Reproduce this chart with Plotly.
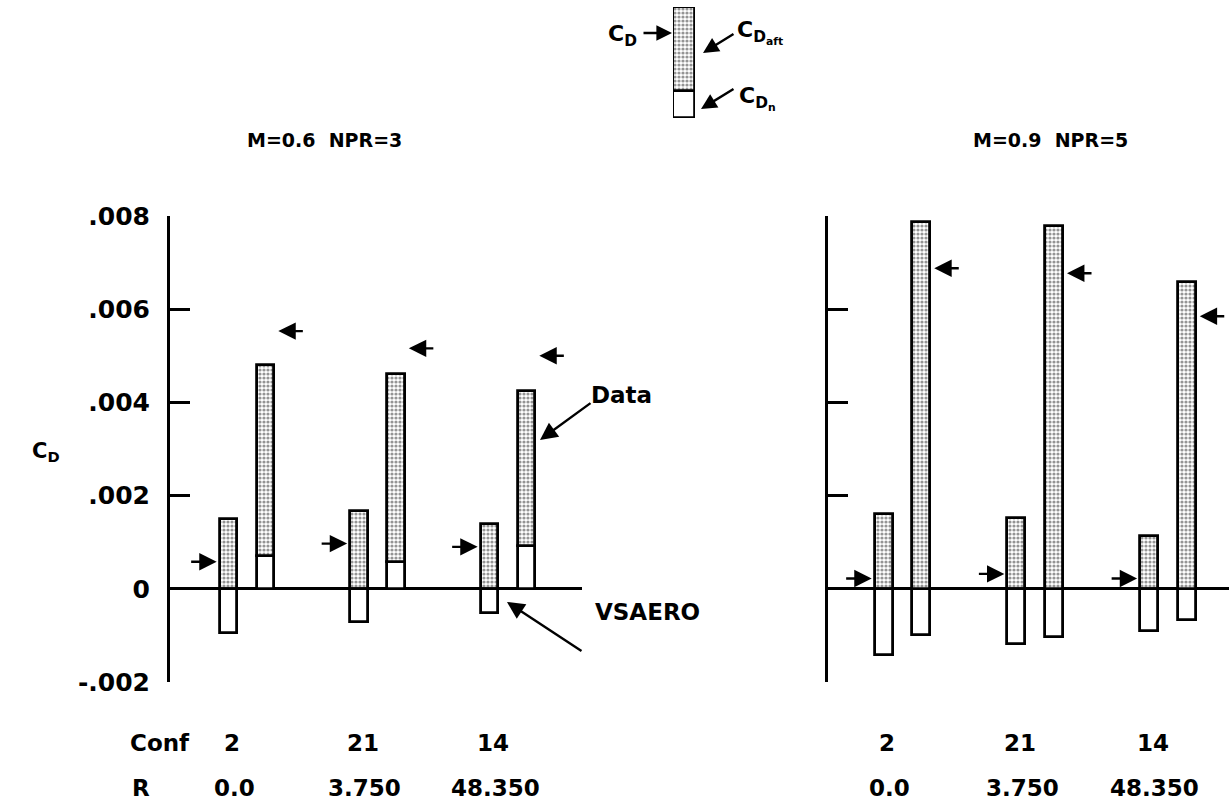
import plotly.graph_objects as go

# ---------------- data ----------------
configs = ["2", "21", "14"]
r_values = ["0.0", "3.750", "48.350"]

# M=0.6, NPR=3 (left panel)
vs_aft_l = [0.00150, 0.00168, 0.00140]
vs_n_l = [-0.00095, -0.00071, -0.00052]
vs_total_l = [0.00058, 0.00097, 0.00090]
dt_n_l = [0.00071, 0.00058, 0.00092]
dt_aft_l = [0.00409, 0.00404, 0.00332]
dt_total_l = [0.00553, 0.00516, 0.00500]

# M=0.9, NPR=5 (right panel)
vs_aft_r = [0.00160, 0.00153, 0.00114]
vs_n_r = [-0.00142, -0.00118, -0.00090]
vs_total_r = [0.00022, 0.00032, 0.00022]
dt_aft_r = [0.00787, 0.00778, 0.00658]
dt_n_r = [-0.00100, -0.00103, -0.00067]
dt_total_r = [0.00688, 0.00677, 0.00585]

# schematic legend glyph (C_Dn bottom, C_Daft top)
legend_n = [1.0]
legend_aft = [3.1]

tick_vals = [-0.002, 0.0, 0.002, 0.004, 0.006, 0.008]
tick_text = ["-.002", "0", ".002", ".004", ".006", ".008"]

# ---------------- style ----------------
W, H = 1229, 803
FONT = "DejaVu Sans"
BW = 0.135
OFF = 0.142
EDGE = dict(color="black", width=2.8)
STIPPLE = dict(shape=".", fgcolor="#2a2a2a", bgcolor="white", size=4, solidity=0.5)


def px_x(p):
    return p / W


def px_y(p):
    return 1 - p / H


fig = go.Figure()


def add_panel(xa, ya, vs_aft, vs_n, dt_aft, dt_n):
    idx = list(range(len(configs)))
    xv = [i - OFF for i in idx]
    xd = [i + OFF for i in idx]
    fig.add_trace(go.Bar(x=xv, y=vs_aft, base=[0] * 3, width=BW, xaxis=xa, yaxis=ya,
                         marker=dict(color="white", line=EDGE, pattern=STIPPLE),
                         showlegend=False, hoverinfo="skip"))
    fig.add_trace(go.Bar(x=xv, y=vs_n, base=[0] * 3, width=BW, xaxis=xa, yaxis=ya,
                         marker=dict(color="white", line=EDGE),
                         showlegend=False, hoverinfo="skip"))
    fig.add_trace(go.Bar(x=xd, y=dt_n, base=[0] * 3, width=BW, xaxis=xa, yaxis=ya,
                         marker=dict(color="white", line=EDGE),
                         showlegend=False, hoverinfo="skip"))
    fig.add_trace(go.Bar(x=xd, y=dt_aft, base=[max(v, 0) for v in dt_n], width=BW,
                         xaxis=xa, yaxis=ya,
                         marker=dict(color="white", line=EDGE, pattern=STIPPLE),
                         showlegend=False, hoverinfo="skip"))


add_panel("x", "y", vs_aft_l, vs_n_l, dt_aft_l, dt_n_l)
add_panel("x2", "y2", vs_aft_r, vs_n_r, dt_aft_r, dt_n_r)

# legend glyph
fig.add_trace(go.Bar(x=[0], y=legend_n, base=[0], width=1, xaxis="x3", yaxis="y3",
                     marker=dict(color="white", line=EDGE), showlegend=False, hoverinfo="skip"))
fig.add_trace(go.Bar(x=[0], y=legend_aft, base=legend_n, width=1, xaxis="x3", yaxis="y3",
                     marker=dict(color="white", line=EDGE, pattern=STIPPLE),
                     showlegend=False, hoverinfo="skip"))

annotations = []


def arrow(xref, yref, x, y, ax, ay, standoff=2, size=1.45):
    annotations.append(dict(x=x, y=y, xref=xref, yref=yref, ax=ax, ay=ay, text="",
                            showarrow=True, arrowhead=2, arrowsize=size, arrowwidth=2.4,
                            arrowcolor="black", standoff=standoff))


def total_arrows(xref, yref, vs_total, dt_total):
    for i in range(len(configs)):
        arrow(xref, yref, i - OFF - BW / 2, vs_total[i], -30, 0, standoff=3)
        arrow(xref, yref, i + OFF + BW / 2, dt_total[i], 30, 0, standoff=4)


total_arrows("x", "y", vs_total_l, dt_total_l)
total_arrows("x2", "y2", vs_total_r, dt_total_r)


def text(xref, yref, x, y, s, size=23, xanchor="center", xshift=0):
    annotations.append(dict(x=x, y=y, xref=xref, yref=yref, text=s, showarrow=False,
                            xanchor=xanchor, yanchor="middle", xshift=xshift,
                            font=dict(family=FONT, size=size, color="black", weight="bold")))


# bottom labels
text("paper", "paper", px_x(160), px_y(743), "Conf")
text("paper", "paper", px_x(141), px_y(788), "R")
for i in range(len(configs)):
    for xr in ("x", "x2"):
        text(xr, "paper", i, px_y(743), configs[i], xshift=-15)
        text(xr, "paper", i, px_y(788), r_values[i], xshift=-13)

# panel titles
text("paper", "paper", px_x(324), px_y(140), "M=0.6  NPR=3", size=19)
text("paper", "paper", px_x(1050), px_y(140), "M=0.9  NPR=5", size=19)

# y label
text("paper", "paper", px_x(46), px_y(452), "C<sub>D</sub>", size=21)

# Data / VSAERO callouts
text("paper", "paper", px_x(621), px_y(395), "Data", size=23)
annotations.append(dict(x=px_x(540), y=px_y(440), xref="paper", yref="paper",
                        ax=52, ay=-38, text="", showarrow=True, arrowhead=2,
                        arrowsize=1.45, arrowwidth=2.4, arrowcolor="black"))
text("paper", "paper", px_x(647), px_y(612), "VSAERO", size=23)
annotations.append(dict(x=px_x(507), y=px_y(602), xref="paper", yref="paper",
                        ax=76, ay=50, text="", showarrow=True, arrowhead=2,
                        arrowsize=1.45, arrowwidth=2.4, arrowcolor="black"))

# legend schematic labels
text("paper", "paper", px_x(622), px_y(36), "C<sub>D</sub>", size=22)
annotations.append(dict(x=px_x(672), y=px_y(33), xref="paper", yref="paper",
                        ax=-30, ay=0, text="", showarrow=True, arrowhead=2,
                        arrowsize=1.3, arrowwidth=2.4, arrowcolor="black"))
text("paper", "paper", px_x(735), px_y(32), "C<sub>D<sub>aft</sub></sub>", size=22, xanchor="left")
annotations.append(dict(x=px_x(703), y=px_y(53), xref="paper", yref="paper",
                        ax=32, ay=-20, text="", showarrow=True, arrowhead=2,
                        arrowsize=1.3, arrowwidth=2.4, arrowcolor="black"))
text("paper", "paper", px_x(737), px_y(98), "C<sub>D<sub>n</sub></sub>", size=22, xanchor="left")
annotations.append(dict(x=px_x(701), y=px_y(109), xref="paper", yref="paper",
                        ax=34, ay=-21, text="", showarrow=True, arrowhead=2,
                        arrowsize=1.3, arrowwidth=2.4, arrowcolor="black"))

ydom = [px_y(682), px_y(216)]
yax = dict(range=[-0.002, 0.008], domain=ydom, showgrid=False, zeroline=True,
           zerolinecolor="black", zerolinewidth=3, showline=True, linecolor="black",
           linewidth=3, ticks="inside", ticklen=20, tickwidth=3, tickcolor="black",
           tickvals=tick_vals, fixedrange=True, automargin=False)
xax = dict(showgrid=False, zeroline=False, showline=False, showticklabels=False,
           ticks="", fixedrange=True, automargin=False)

fig.update_layout(
    width=W, height=H, margin=dict(l=0, r=0, t=0, b=0, autoexpand=False),
    paper_bgcolor="white", plot_bgcolor="white",
    barmode="overlay", bargap=0,
    xaxis=dict(xax, domain=[px_x(170), px_x(582)], range=[-0.59, 2.567]),
    yaxis=dict(yax, anchor="x", ticktext=tick_text, showticklabels=True,
               ticklabelstandoff=12,
               tickfont=dict(family=FONT, size=25, color="black", weight="bold")),
    xaxis2=dict(xax, domain=[px_x(828), 1.0], range=[-0.561, 2.46], anchor="y2"),
    yaxis2=dict(yax, anchor="x2", showticklabels=False),
    xaxis3=dict(xax, domain=[px_x(673), px_x(695)], range=[-0.5, 0.5], anchor="y3"),
    yaxis3=dict(domain=[px_y(118), px_y(7)], range=[0, 4.1], visible=False, anchor="x3"),
    annotations=annotations,
)

fig.write_html(
    "out.html",
    config={"displayModeBar": False},
    post_script="document.body.style.margin='0';document.body.style.overflow='hidden';",
)
